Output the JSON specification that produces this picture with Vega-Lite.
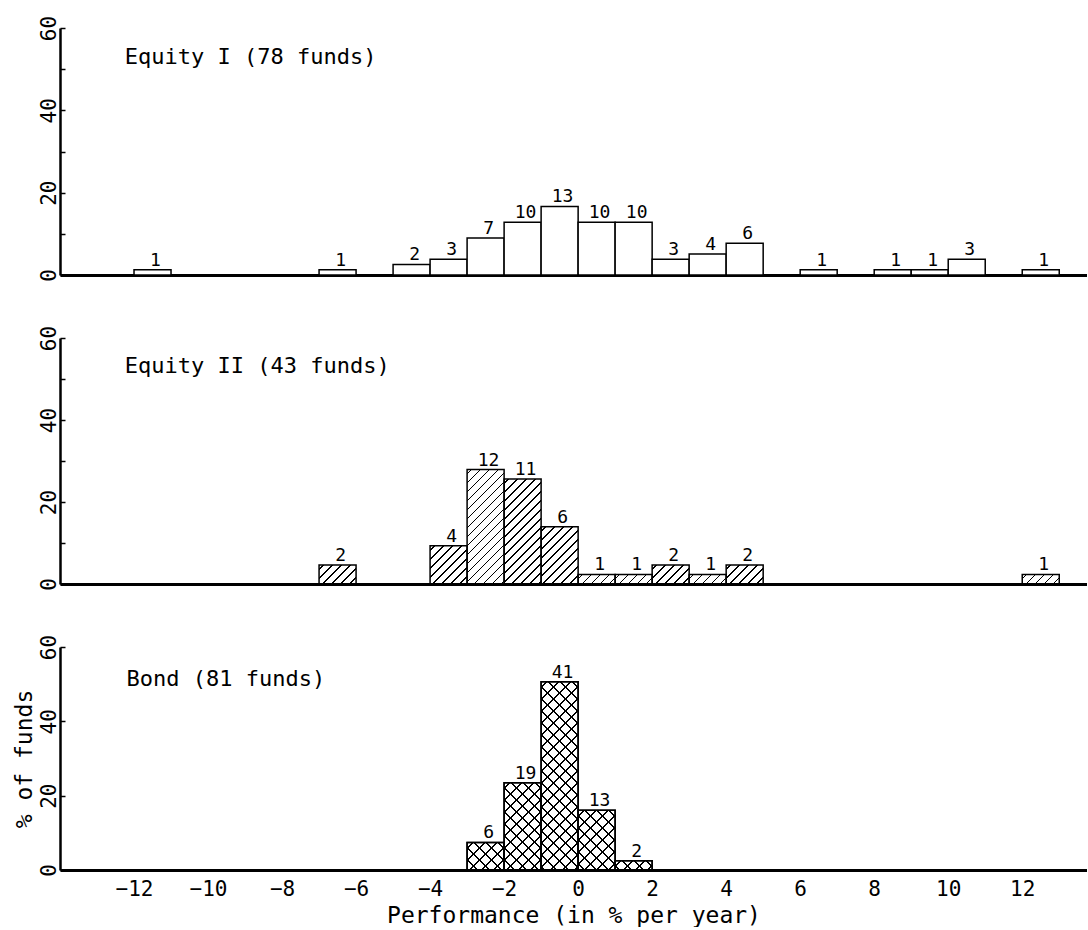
{
  "$schema": "https://vega.github.io/schema/vega-lite/v6.json",
  "background": "white",
  "padding": {"left": 13, "top": 15, "right": 0, "bottom": 0},
  "spacing": 43,
  "params": [
    {"name": "hs", "value": [
      {"offset": 0, "color": "transparent"},
      {"offset": 0.02, "color": "transparent"}, {"offset": 0.02, "color": "black"}, {"offset": 0.029, "color": "black"}, {"offset": 0.029, "color": "transparent"},
      {"offset": 0.07, "color": "transparent"}, {"offset": 0.07, "color": "black"}, {"offset": 0.079, "color": "black"}, {"offset": 0.079, "color": "transparent"},
      {"offset": 0.12, "color": "transparent"}, {"offset": 0.12, "color": "black"}, {"offset": 0.129, "color": "black"}, {"offset": 0.129, "color": "transparent"},
      {"offset": 0.17, "color": "transparent"}, {"offset": 0.17, "color": "black"}, {"offset": 0.179, "color": "black"}, {"offset": 0.179, "color": "transparent"},
      {"offset": 0.22, "color": "transparent"}, {"offset": 0.22, "color": "black"}, {"offset": 0.229, "color": "black"}, {"offset": 0.229, "color": "transparent"},
      {"offset": 0.27, "color": "transparent"}, {"offset": 0.27, "color": "black"}, {"offset": 0.279, "color": "black"}, {"offset": 0.279, "color": "transparent"},
      {"offset": 0.32, "color": "transparent"}, {"offset": 0.32, "color": "black"}, {"offset": 0.329, "color": "black"}, {"offset": 0.329, "color": "transparent"},
      {"offset": 0.37, "color": "transparent"}, {"offset": 0.37, "color": "black"}, {"offset": 0.379, "color": "black"}, {"offset": 0.379, "color": "transparent"},
      {"offset": 0.42, "color": "transparent"}, {"offset": 0.42, "color": "black"}, {"offset": 0.429, "color": "black"}, {"offset": 0.429, "color": "transparent"},
      {"offset": 0.47, "color": "transparent"}, {"offset": 0.47, "color": "black"}, {"offset": 0.479, "color": "black"}, {"offset": 0.479, "color": "transparent"},
      {"offset": 0.52, "color": "transparent"}, {"offset": 0.52, "color": "black"}, {"offset": 0.529, "color": "black"}, {"offset": 0.529, "color": "transparent"},
      {"offset": 0.57, "color": "transparent"}, {"offset": 0.57, "color": "black"}, {"offset": 0.579, "color": "black"}, {"offset": 0.579, "color": "transparent"},
      {"offset": 0.62, "color": "transparent"}, {"offset": 0.62, "color": "black"}, {"offset": 0.629, "color": "black"}, {"offset": 0.629, "color": "transparent"},
      {"offset": 0.67, "color": "transparent"}, {"offset": 0.67, "color": "black"}, {"offset": 0.679, "color": "black"}, {"offset": 0.679, "color": "transparent"},
      {"offset": 0.72, "color": "transparent"}, {"offset": 0.72, "color": "black"}, {"offset": 0.729, "color": "black"}, {"offset": 0.729, "color": "transparent"},
      {"offset": 0.77, "color": "transparent"}, {"offset": 0.77, "color": "black"}, {"offset": 0.779, "color": "black"}, {"offset": 0.779, "color": "transparent"},
      {"offset": 0.82, "color": "transparent"}, {"offset": 0.82, "color": "black"}, {"offset": 0.829, "color": "black"}, {"offset": 0.829, "color": "transparent"},
      {"offset": 0.87, "color": "transparent"}, {"offset": 0.87, "color": "black"}, {"offset": 0.879, "color": "black"}, {"offset": 0.879, "color": "transparent"},
      {"offset": 0.92, "color": "transparent"}, {"offset": 0.92, "color": "black"}, {"offset": 0.929, "color": "black"}, {"offset": 0.929, "color": "transparent"},
      {"offset": 0.97, "color": "transparent"}, {"offset": 0.97, "color": "black"}, {"offset": 0.979, "color": "black"}, {"offset": 0.979, "color": "transparent"},
      {"offset": 1, "color": "transparent"}
    ]}
  ],
  "config": {
    "font": "DejaVu Sans Mono",
    "view": {"stroke": null},
    "text": {"font": "DejaVu Sans Mono"},
    "axis": {"domainColor": "black", "tickColor": "black", "labelColor": "black", "titleColor": "black", "grid": false, "labelFont": "DejaVu Sans Mono", "titleFont": "DejaVu Sans Mono", "titleFontWeight": "normal"}
  },
  "datasets": {
    "equity1": [
      {"bin_start": -12, "bin_end": -11, "mid": -11.5, "count": 1, "pct": 1.28},
      {"bin_start": -7, "bin_end": -6, "mid": -6.5, "count": 1, "pct": 1.28},
      {"bin_start": -5, "bin_end": -4, "mid": -4.5, "count": 2, "pct": 2.56},
      {"bin_start": -4, "bin_end": -3, "mid": -3.5, "count": 3, "pct": 3.85},
      {"bin_start": -3, "bin_end": -2, "mid": -2.5, "count": 7, "pct": 8.97},
      {"bin_start": -2, "bin_end": -1, "mid": -1.5, "count": 10, "pct": 12.82},
      {"bin_start": -1, "bin_end": 0, "mid": -0.5, "count": 13, "pct": 16.67},
      {"bin_start": 0, "bin_end": 1, "mid": 0.5, "count": 10, "pct": 12.82},
      {"bin_start": 1, "bin_end": 2, "mid": 1.5, "count": 10, "pct": 12.82},
      {"bin_start": 2, "bin_end": 3, "mid": 2.5, "count": 3, "pct": 3.85},
      {"bin_start": 3, "bin_end": 4, "mid": 3.5, "count": 4, "pct": 5.13},
      {"bin_start": 4, "bin_end": 5, "mid": 4.5, "count": 6, "pct": 7.69},
      {"bin_start": 6, "bin_end": 7, "mid": 6.5, "count": 1, "pct": 1.28},
      {"bin_start": 8, "bin_end": 9, "mid": 8.5, "count": 1, "pct": 1.28},
      {"bin_start": 9, "bin_end": 10, "mid": 9.5, "count": 1, "pct": 1.28},
      {"bin_start": 10, "bin_end": 11, "mid": 10.5, "count": 3, "pct": 3.85},
      {"bin_start": 12, "bin_end": 13, "mid": 12.5, "count": 1, "pct": 1.28}
    ],
    "equity2": [
      {"bin_start": -7, "bin_end": -6, "mid": -6.5, "count": 2, "pct": 4.65},
      {"bin_start": -4, "bin_end": -3, "mid": -3.5, "count": 4, "pct": 9.30},
      {"bin_start": -3, "bin_end": -2, "mid": -2.5, "count": 12, "pct": 27.91},
      {"bin_start": -2, "bin_end": -1, "mid": -1.5, "count": 11, "pct": 25.58},
      {"bin_start": -1, "bin_end": 0, "mid": -0.5, "count": 6, "pct": 13.95},
      {"bin_start": 0, "bin_end": 1, "mid": 0.5, "count": 1, "pct": 2.33},
      {"bin_start": 1, "bin_end": 2, "mid": 1.5, "count": 1, "pct": 2.33},
      {"bin_start": 2, "bin_end": 3, "mid": 2.5, "count": 2, "pct": 4.65},
      {"bin_start": 3, "bin_end": 4, "mid": 3.5, "count": 1, "pct": 2.33},
      {"bin_start": 4, "bin_end": 5, "mid": 4.5, "count": 2, "pct": 4.65},
      {"bin_start": 12, "bin_end": 13, "mid": 12.5, "count": 1, "pct": 2.33}
    ],
    "bond": [
      {"bin_start": -3, "bin_end": -2, "mid": -2.5, "count": 6, "pct": 7.41},
      {"bin_start": -2, "bin_end": -1, "mid": -1.5, "count": 19, "pct": 23.46},
      {"bin_start": -1, "bin_end": 0, "mid": -0.5, "count": 41, "pct": 50.62},
      {"bin_start": 0, "bin_end": 1, "mid": 0.5, "count": 13, "pct": 16.05},
      {"bin_start": 1, "bin_end": 2, "mid": 1.5, "count": 2, "pct": 2.47}
    ]
  },
  "vconcat": [
    {
      "width": 1027,
      "height": 247,
      "data": {"name": "equity1"},
      "layer": [
        {
          "mark": {"type": "bar", "fill": "white", "stroke": "black", "strokeWidth": 1.5},
          "encoding": {
            "x": {"field": "bin_start", "type": "quantitative", "scale": {"domain": [-14, 13.75], "nice": false, "zero": false},
                  "axis": {"labels": false, "ticks": false, "title": null, "domainWidth": 3}},
            "x2": {"field": "bin_end"},
            "y": {"field": "pct", "type": "quantitative", "scale": {"domain": [0, 60], "nice": false},
                  "axis": {"values": [0, 10, 20, 30, 40, 50, 60], "labelExpr": "datum.value % 20 === 0 ? datum.label : ''", "labelAngle": 270, "labelAlign": "center", "labelBaseline": "bottom", "labelFontSize": 21, "tickSize": -5, "tickWidth": 1.5, "domainWidth": 2.5, "labelPadding": 6, "title": null, "labelOverlap": false, "labelFlush": false}},
            "y2": {"datum": 0}
          }
        },
        {
          "mark": {"type": "text", "fontSize": 18, "baseline": "alphabetic", "dy": -4, "dx": 3, "color": "black"},
          "encoding": {
            "x": {"field": "mid", "type": "quantitative"},
            "y": {"field": "pct", "type": "quantitative"},
            "text": {"field": "count", "type": "quantitative"}
          }
        },
        {
          "data": {"values": [{"label": "Equity I (78 funds)", "px": -12.25, "py": 52.9}]},
          "mark": {"type": "text", "fontSize": 22, "align": "left", "baseline": "middle", "color": "black"},
          "encoding": {
            "x": {"field": "px", "type": "quantitative"},
            "y": {"field": "py", "type": "quantitative"},
            "text": {"field": "label"}
          }
        }
      ]
    },
    {
      "width": 1027,
      "height": 246,
      "data": {"name": "equity2"},
      "layer": [
        {
          "mark": {"type": "bar", "stroke": "black", "strokeWidth": 1.5},
          "encoding": {
            "x": {"field": "bin_start", "type": "quantitative", "scale": {"domain": [-14, 13.75], "nice": false, "zero": false},
                  "axis": {"labels": false, "ticks": false, "title": null, "domainWidth": 3}},
            "x2": {"field": "bin_end"},
            "y": {"field": "pct", "type": "quantitative", "scale": {"domain": [0, 60], "nice": false},
                  "axis": {"values": [0, 10, 20, 30, 40, 50, 60], "labelExpr": "datum.value % 20 === 0 ? datum.label : ''", "labelAngle": 270, "labelAlign": "center", "labelBaseline": "bottom", "labelFontSize": 21, "tickSize": -5, "tickWidth": 1.5, "domainWidth": 2.5, "labelPadding": 6, "title": null, "labelOverlap": false, "labelFlush": false}},
            "y2": {"datum": 0},
            "fill": {"value": {"expr": "{gradient: 'linear', x1: 0, y1: 0, x2: 4.865/(1+pow(datum.pct*0.11081,2)), y2: 4.865*datum.pct*0.11081/(1+pow(datum.pct*0.11081,2)), stops: hs}"}}
          }
        },
        {
          "mark": {"type": "text", "fontSize": 18, "baseline": "alphabetic", "dy": -4, "dx": 3, "color": "black"},
          "encoding": {
            "x": {"field": "mid", "type": "quantitative"},
            "y": {"field": "pct", "type": "quantitative"},
            "text": {"field": "count", "type": "quantitative"}
          }
        },
        {
          "data": {"values": [{"label": "Equity II (43 funds)", "px": -12.25, "py": 53.2}]},
          "mark": {"type": "text", "fontSize": 22, "align": "left", "baseline": "middle", "color": "black"},
          "encoding": {
            "x": {"field": "px", "type": "quantitative"},
            "y": {"field": "py", "type": "quantitative"},
            "text": {"field": "label"}
          }
        }
      ]
    },
    {
      "width": 1027,
      "height": 223,
      "data": {"name": "bond"},
      "layer": [
        {
          "mark": {"type": "bar", "stroke": "black", "strokeWidth": 1.5},
          "encoding": {
            "x": {"field": "bin_start", "type": "quantitative", "scale": {"domain": [-14, 13.75], "nice": false, "zero": false},
                  "axis": {"values": [-12, -10, -8, -6, -4, -2, 0, 2, 4, 6, 8, 10, 12], "ticks": false, "labelFontSize": 21, "labelPadding": 8, "domainWidth": 3, "title": "Performance (in % per year)", "titleFontSize": 23, "titlePadding": 5, "labelFlush": false, "labelOverlap": false}},
            "x2": {"field": "bin_end"},
            "y": {"field": "pct", "type": "quantitative", "scale": {"domain": [0, 60], "nice": false},
                  "axis": {"values": [0, 10, 20, 30, 40, 50, 60], "labelExpr": "datum.value % 20 === 0 ? datum.label : ''", "labelAngle": 270, "labelAlign": "center", "labelBaseline": "bottom", "labelFontSize": 21, "tickSize": -5, "tickWidth": 1.5, "domainWidth": 2.5, "labelPadding": 6, "title": "% of funds", "titleFontSize": 23, "titlePadding": 2, "labelOverlap": false, "labelFlush": false}},
            "y2": {"datum": 0},
            "fill": {"value": {"expr": "{gradient: 'linear', x1: 0, y1: 0, x2: 6.486/(1+pow(datum.pct*0.10045,2)), y2: 6.486*datum.pct*0.10045/(1+pow(datum.pct*0.10045,2)), stops: hs}"}}
          }
        },
        {
          "mark": {"type": "bar", "stroke": "black", "strokeWidth": 1.5},
          "encoding": {
            "x": {"field": "bin_start", "type": "quantitative"},
            "x2": {"field": "bin_end"},
            "y": {"field": "pct", "type": "quantitative"},
            "y2": {"datum": 0},
            "fill": {"value": {"expr": "{gradient: 'linear', x1: 1, y1: 0, x2: 1-6.486/(1+pow(datum.pct*0.10045,2)), y2: 6.486*datum.pct*0.10045/(1+pow(datum.pct*0.10045,2)), stops: hs}"}}
          }
        },
        {
          "mark": {"type": "text", "fontSize": 18, "baseline": "alphabetic", "dy": -4, "dx": 3, "color": "black"},
          "encoding": {
            "x": {"field": "mid", "type": "quantitative"},
            "y": {"field": "pct", "type": "quantitative"},
            "text": {"field": "count", "type": "quantitative"}
          }
        },
        {
          "data": {"values": [{"label": "Bond (81 funds)", "px": -12.2, "py": 51.3}]},
          "mark": {"type": "text", "fontSize": 22, "align": "left", "baseline": "middle", "color": "black"},
          "encoding": {
            "x": {"field": "px", "type": "quantitative"},
            "y": {"field": "py", "type": "quantitative"},
            "text": {"field": "label"}
          }
        }
      ]
    }
  ]
}
